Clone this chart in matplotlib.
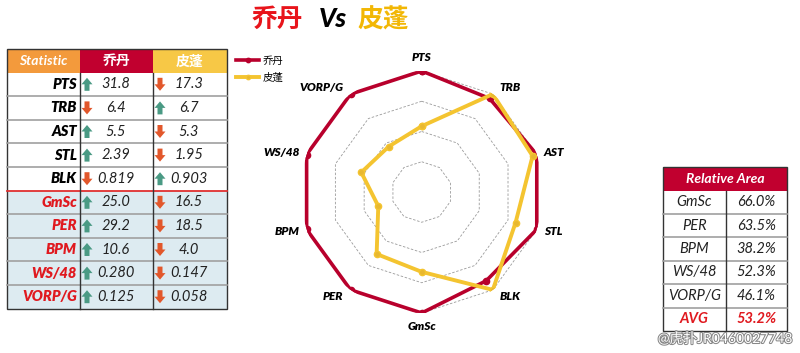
import numpy as np
import matplotlib
matplotlib.use("Agg")
import matplotlib.pyplot as plt
from matplotlib.patches import Rectangle, FancyArrow
import matplotlib.patheffects as pe

plt.rcParams["font.family"] = ["Lato", "Noto Sans CJK SC", "DejaVu Sans"]

# data
stats = ["PTS", "TRB", "AST", "STL", "BLK", "GmSc", "PER", "BPM", "WS/48", "VORP/G"]
jordan = [31.8, 6.4, 5.5, 2.39, 0.819, 25.0, 29.2, 10.6, 0.280, 0.125]
pippen = [17.3, 6.7, 5.3, 1.95, 0.903, 16.5, 18.5, 4.0, 0.147, 0.058]
jordan_txt = ["31.8", "6.4", "5.5", "2.39", "0.819", "25.0", "29.2", "10.6", "0.280", "0.125"]
pippen_txt = ["17.3", "6.7", "5.3", "1.95", "0.903", "16.5", "18.5", "4.0", "0.147", "0.058"]
area_labels = ["GmSc", "PER", "BPM", "WS/48", "VORP/G", "AVG"]
area_txt = ["66.0%", "63.5%", "38.2%", "52.3%", "46.1%", "53.2%"]

RED = "#B8002C"
GOLD = "#F4C430"
UP = "#4A9A84"
DOWN = "#E2572B"

W, H = 800, 353
fig = plt.figure(figsize=(W / 100, H / 100), dpi=100)
ax0 = fig.add_axes([0, 0, 1, 1])
ax0.set_xlim(0, W)
ax0.set_ylim(H, 0)
ax0.axis("off")

# title
fig.text(277 / W, 1 - 19 / H, "乔丹", color="#E8141B", fontsize=18.5, fontweight="black",
         ha="center", va="center")
fig.text(333 / W, 1 - 19 / H, "Vs", color="black", fontsize=19, fontweight="black",
         style="italic", ha="center", va="center")
fig.text(383 / W, 1 - 19 / H, "皮蓬", color="#F2B705", fontsize=18.5, fontweight="black",
         ha="center", va="center")


def arrow(x, yc, up):
    # small block arrow centred on (x, yc), pixel coords with y down
    if up:
        a = FancyArrow(x, yc + 6.5, 0, -13, width=5, head_width=11, head_length=6.5,
                       length_includes_head=True, color=UP, lw=0)
    else:
        a = FancyArrow(x, yc - 6.5, 0, 13, width=5, head_width=11, head_length=6.5,
                       length_includes_head=True, color=DOWN, lw=0)
    ax0.add_patch(a)


# left table
cx = [7, 80, 153, 227]
top, hh, rh = 49, 23.5, 23.6
heads = ["Statistic", "乔丹", "皮蓬"]
hcols = ["#F39A3C", "#C1002F", "#F7C846"]
for i in range(3):
    ax0.add_patch(Rectangle((cx[i], top), cx[i + 1] - cx[i], hh, color=hcols[i], lw=0))
    ax0.text((cx[i] + cx[i + 1]) / 2, top + hh / 2, heads[i], color="white", fontsize=10,
             fontweight="bold", style="italic", ha="center", va="center")
y0 = top + hh
for r, s in enumerate(stats):
    yt = y0 + r * rh
    yc = yt + rh / 2
    bg = "white" if r < 5 else "#DDEBF1"
    ax0.add_patch(Rectangle((cx[0], yt), cx[3] - cx[0], rh, color=bg, lw=0))
    ax0.text(cx[1] - 3, yc, s, color="black" if r < 5 else "#E0191F", fontsize=10.5,
             fontweight="heavy", style="italic", ha="right", va="center")
    j_up = jordan[r] > pippen[r]
    arrow(cx[1] + 7, yc, j_up)
    arrow(cx[2] + 7, yc, not j_up)
    ax0.text(cx[1] + 36, yc, jordan_txt[r], fontsize=10.5, style="italic", ha="center",
             va="center", color="#222222")
    ax0.text(cx[2] + 36, yc, pippen_txt[r], fontsize=10.5, style="italic", ha="center",
             va="center", color="#222222")
    if r > 0:
        ax0.plot([cx[0], cx[3]], [yt, yt], color="#E03030" if r == 5 else "#A0A0A0",
                 lw=1.3 if r == 5 else 1.2)
bot = y0 + len(stats) * rh
for x in cx[1:3]:
    ax0.plot([x, x], [y0, bot], color="#333333", lw=1)
ax0.add_patch(Rectangle((cx[0], top), cx[3] - cx[0], bot - top, fill=False,
                        ec="#333333", lw=1))

# right table
rx = [663, 726, 787]
rtop, rhh, rrh = 167, 23.5, 23.4
ax0.add_patch(Rectangle((rx[0], rtop), rx[2] - rx[0], rhh, color="#C1002F", lw=0))
ax0.text((rx[0] + rx[2]) / 2, rtop + rhh / 2, "Relative Area", color="white", fontsize=10,
         fontweight="bold", style="italic", ha="center", va="center")
ry0 = rtop + rhh
for r, lab in enumerate(area_labels):
    yt = ry0 + r * rrh
    yc = yt + rrh / 2
    is_avg = lab == "AVG"
    kw = dict(fontsize=10.5, style="italic", ha="center", va="center",
              color="#E0191F" if is_avg else "#222222",
              fontweight="bold" if is_avg else "normal")
    ax0.text((rx[0] + rx[1]) / 2, yc, lab, **kw)
    ax0.text((rx[1] + rx[2]) / 2, yc, area_txt[r], **kw)
    if r > 0:
        ax0.plot([rx[0], rx[2]], [yt, yt], color="#A0A0A0", lw=1.2)
rbot = ry0 + len(area_labels) * rrh
ax0.plot([rx[1], rx[1]], [ry0, rbot], color="#333333", lw=1)
ax0.add_patch(Rectangle((rx[0], rtop), rx[2] - rx[0], rbot - rtop, fill=False,
                        ec="#333333", lw=1))

# watermark
ax0.text(725, 338, "@虎扑JR0460027748", fontsize=10, color="white", ha="center",
         va="center", path_effects=[pe.withStroke(linewidth=1.5, foreground="#888888")])

# radar
cxr, cyr, R = 421.7, 192, 121
ax = fig.add_axes([(cxr - R) / W, (H - cyr - R) / H, 2 * R / W, 2 * R / H],
                  projection="polar")
ax.set_theta_offset(np.pi / 2)
ax.set_theta_direction(-1)
ax.set_ylim(0, 1)
ax.axis("off")
n = len(stats)
theta = np.arange(n) * 2 * np.pi / n
tc = np.append(theta, theta[0])
for lvl in [0.25, 0.5, 0.75, 1.0]:
    ax.plot(tc, [lvl] * (n + 1), color="#9A9A9A", lw=0.6, ls=(0, (3, 2)))

mx = np.maximum(jordan, pippen)
jn = np.array(jordan) / mx
pn = np.array(pippen) / mx
ax.plot(tc, np.append(jn, jn[0]), color=RED, lw=2.6, marker="o", ms=4.5, label="乔丹")
ax.plot(tc, np.append(pn, pn[0]), color=GOLD, lw=2.8, marker="o", ms=4.5,
        mfc="#E8B830", label="皮蓬")

for t, s in zip(theta, stats):
    a = np.pi / 2 - t
    c, sn = np.cos(a), np.sin(a)
    if abs(c) < 0.1:
        ha = "center"
    else:
        ha = "left" if c > 0 else "right"
    va = "bottom" if sn > 0.95 else ("top" if sn < -0.95 else "center")
    dx, dy = 5 * np.sign(c) if abs(c) > 0.1 else 0, 6 * sn
    ax.annotate(s, (t, 1.0), xytext=(dx, dy), textcoords="offset points",
                fontsize=8.5, fontweight="heavy", style="italic", ha=ha, va=va,
                annotation_clip=False)

fig.legend(loc="upper left", bbox_to_anchor=(232 / W, 1 - 52 / H), frameon=False,
           fontsize=7.5, handlelength=2.2, labelspacing=0.7, borderaxespad=0,
           handletextpad=0.3, markerscale=0.7)

fig.savefig("out.png", dpi=100)
